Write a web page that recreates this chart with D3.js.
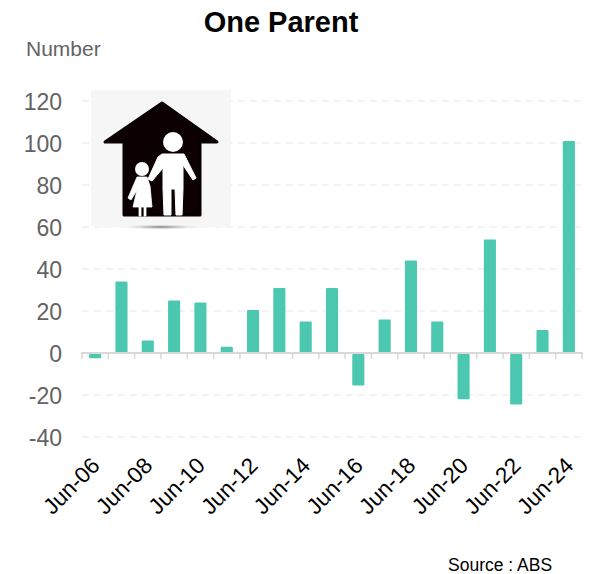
<!DOCTYPE html>
<html>
<head>
<meta charset="utf-8">
<script src="https://cdn.jsdelivr.net/npm/d3@7"></script>
<style>
html,body{margin:0;padding:0;background:#fff}
svg{display:block}
text{font-family:"Liberation Sans",Arial,sans-serif}
</style>
</head>
<body>
<svg id="c" width="596" height="574"></svg>
<script>
const categories = ["Jun-06","Jun-07","Jun-08","Jun-09","Jun-10","Jun-11","Jun-12","Jun-13","Jun-14","Jun-15","Jun-16","Jun-17","Jun-18","Jun-19","Jun-20","Jun-21","Jun-22","Jun-23","Jun-24"];
const values = [-2,34,6,25,24,3,20.5,31,15,31,-15,16,44,15,-21.5,54,-24,11,101];
const yTicks = [-40,-20,0,20,40,60,80,100,120];
const xLabels = categories.filter((d,i)=>i%2===0);

const svg = d3.select("#c");
const x = d3.scaleBand().domain(categories).range([82,582]).paddingInner(0.54).paddingOuter(0.27);
const y = d3.scaleLinear().domain([-40,120]).range([437,101]);

// gridlines
svg.append("g").selectAll("line").data(yTicks.filter(d=>d!==0)).join("line")
  .attr("x1",82).attr("x2",582).attr("y1",d=>y(d)).attr("y2",d=>y(d))
  .attr("stroke","#efefef").attr("stroke-width",1.5).attr("stroke-dasharray","7 5");

// y axis
const yAxis = d3.axisLeft(y).tickValues(yTicks).tickSize(0).tickPadding(0).tickFormat(d=>String(d));
const gy = svg.append("g").attr("transform","translate(62,0)").call(yAxis);
gy.select(".domain").remove();
gy.selectAll("text").attr("font-size",23).attr("fill","#636363")
  .style("font-family",'"Liberation Sans",Arial,sans-serif').attr("dy","0.35em");

// icon
const icon = svg.append("g");
icon.append("rect").attr("x",91).attr("y",90).attr("width",140).attr("height",137).attr("fill","#f6f6f6");
const defs = svg.append("defs");
const grad = defs.append("radialGradient").attr("id","sh");
grad.append("stop").attr("offset","0").attr("stop-color","#777");
grad.append("stop").attr("offset","1").attr("stop-color","#fff").attr("stop-opacity",0);
defs.append("filter").attr("id","soft").append("feGaussianBlur").attr("stdDeviation",0.6);
icon.append("ellipse").attr("cx",161).attr("cy",227).attr("rx",44).attr("ry",3).attr("fill","url(#sh)");
const art = icon.append("g").attr("filter","url(#soft)");
art.append("path").attr("fill","#070304").attr("stroke","#070304").attr("stroke-width",3).attr("stroke-linejoin","round")
  .attr("d","M162,103 L217,142 L200,142 L200,215 L124,215 L124,142 L105,142 Z");
art.append("circle").attr("cx",173).attr("cy",142).attr("r",10).attr("fill","#fff");
art.append("path").attr("fill","#fff").attr("stroke","#fff").attr("stroke-width",1).attr("stroke-linejoin","round")
  .attr("d","M162,154 L184,154 L196,178 L193,180 L183,165 L183,189 L182,215 L176,215 L175,189 L171,189 L171,215 L164,215 L163,189 L163,168 L152,181 L148,179 L158,157 Z");
art.append("circle").attr("cx",142).attr("cy",169).attr("r",7).attr("fill","#fff");
art.append("path").attr("fill","#fff").attr("stroke","#fff").attr("stroke-width",0.8).attr("stroke-linejoin","round")
  .attr("d","M137,177 L147,177 L150,186 L152,207 L146,207 L146,216 L144,216 L144,207 L141,207 L141,216 L139,216 L139,207 L133,207 L137,190 L131,200 L128,198 Z");

// bars
svg.append("g").selectAll("rect").data(values).join("rect")
  .attr("x",(d,i)=>x(categories[i]))
  .attr("width",x.bandwidth())
  .attr("y",d=>d>=0?y(d):y(0)+1)
  .attr("height",d=>Math.abs(y(d)-y(0)))
  .attr("rx",1)
  .attr("fill","#4cc7b0");

// x axis
const edges = d3.range(categories.length+1).map(i=>82+i*x.step());
const gx = svg.append("g");
gx.append("line").attr("x1",81).attr("x2",583).attr("y1",y(0)).attr("y2",y(0))
  .attr("stroke","#d9d9d9").attr("stroke-width",2);
gx.selectAll(".t").data(edges).join("line").attr("class","t")
  .attr("x1",d=>d).attr("x2",d=>d).attr("y1",y(0)).attr("y2",y(0)+6)
  .attr("stroke","#d9d9d9").attr("stroke-width",1.5);

svg.append("g").selectAll("text").data(xLabels).join("text")
  .attr("text-anchor","end")
  .attr("transform",d=>`translate(${x(d)+x.bandwidth()/2+6},467) rotate(-45)`)
  .attr("font-size",22.5).attr("fill","#000")
  .text(d=>d);

svg.append("text").attr("x",281).attr("y",32).attr("text-anchor","middle")
  .attr("font-size",29).attr("font-weight","bold").attr("fill","#000").text("One Parent");
svg.append("text").attr("x",26).attr("y",56).attr("font-size",21).attr("fill","#636363").text("Number");
svg.append("text").attr("x",448).attr("y",571).attr("font-size",17.5).attr("fill","#000").text("Source : ABS");
</script>
</body>
</html>
